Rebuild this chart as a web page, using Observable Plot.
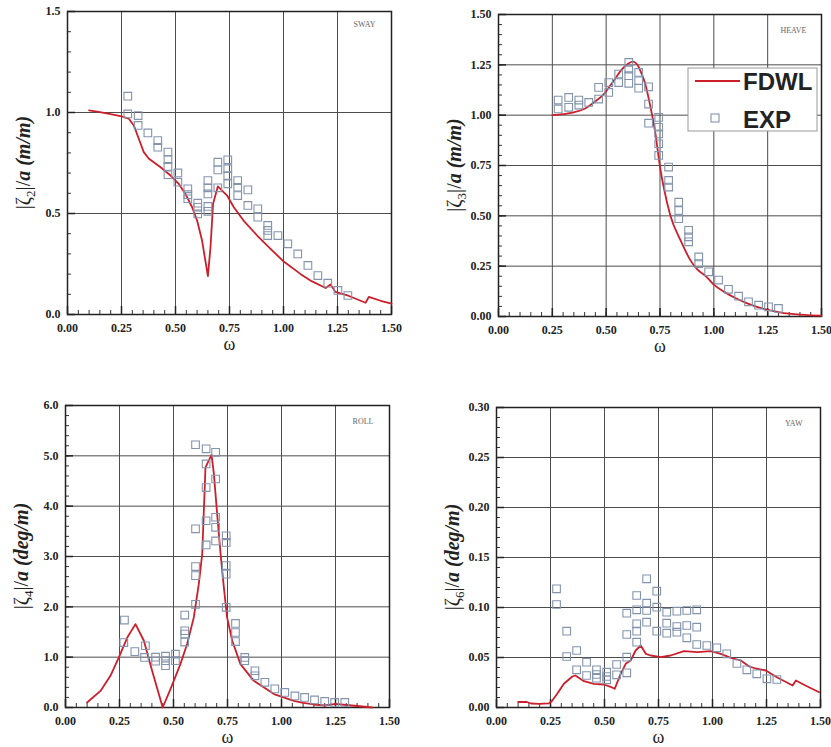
<!DOCTYPE html>
<html><head><meta charset="utf-8">
<script src="https://cdn.jsdelivr.net/npm/d3@7"></script>
<script src="https://cdn.jsdelivr.net/npm/@observablehq/plot@0.6"></script>
<style>
html,body{margin:0;padding:0;background:#fff;}
#root{position:relative;width:831px;height:747px;overflow:hidden;background:#fff;}
#root svg{position:absolute;overflow:visible;}
</style></head><body><div id="root"></div>
<script>
// ---- shared x axis ----
const xTicks = [0, 0.25, 0.5, 0.75, 1.0, 1.25, 1.5];

// ---- SWAY ----
const swayTicks = [0, 0.5, 1.0, 1.5];
const swayFDWL = [[0.10,1.010],[0.15,1.002],[0.20,0.992],[0.25,0.981],[0.284,0.969],[0.307,0.936],[0.330,0.870],[0.353,0.804],[0.377,0.771],[0.431,0.729],[0.477,0.688],[0.515,0.647],[0.546,0.597],[0.577,0.531],[0.600,0.465],[0.623,0.366],[0.650,0.190],[0.662,0.333],[0.674,0.548],[0.696,0.634],[0.739,0.589],[0.770,0.531],[0.815,0.465],[0.878,0.391],[0.940,0.325],[1.001,0.262],[1.078,0.201],[1.130,0.165],[1.195,0.131],[1.218,0.149],[1.240,0.112],[1.300,0.093],[1.380,0.058],[1.395,0.087],[1.450,0.068],[1.500,0.054]];
const swayEXP = [[0.279,1.081],[0.279,0.993],[0.327,0.985],[0.327,0.936],[0.372,0.899],[0.418,0.861],[0.418,0.828],[0.465,0.804],[0.465,0.767],[0.465,0.733],[0.465,0.692],[0.511,0.701],[0.511,0.655],[0.557,0.622],[0.557,0.593],[0.557,0.573],[0.603,0.551],[0.603,0.531],[0.603,0.498],[0.650,0.663],[0.650,0.627],[0.650,0.597],[0.650,0.535],[0.650,0.511],[0.696,0.754],[0.696,0.716],[0.696,0.627],[0.742,0.766],[0.742,0.722],[0.742,0.688],[0.742,0.647],[0.788,0.663],[0.788,0.630],[0.788,0.589],[0.835,0.617],[0.835,0.540],[0.881,0.523],[0.881,0.482],[0.927,0.441],[0.927,0.416],[0.927,0.391],[0.974,0.391],[1.020,0.350],[1.066,0.300],[1.113,0.243],[1.159,0.193],[1.205,0.155],[1.252,0.119],[1.298,0.094]];

// ---- HEAVE ----
const heaveTicks = [0, 0.25, 0.5, 0.75, 1.0, 1.25, 1.5];
const heaveFDWL = [[0.25,1.000],[0.30,1.005],[0.35,1.014],[0.40,1.032],[0.443,1.063],[0.489,1.105],[0.535,1.171],[0.574,1.229],[0.605,1.258],[0.625,1.266],[0.645,1.250],[0.659,1.220],[0.682,1.154],[0.706,1.039],[0.729,0.907],[0.749,0.750],[0.767,0.643],[0.798,0.502],[0.845,0.379],[0.891,0.280],[0.922,0.235],[0.966,0.197],[1.0,0.158],[1.05,0.121],[1.10,0.092],[1.15,0.068],[1.20,0.048],[1.25,0.033],[1.30,0.022],[1.35,0.014],[1.40,0.009],[1.45,0.006],[1.50,0.004]];
const heaveEXP = [[0.277,1.075],[0.277,1.031],[0.326,1.088],[0.326,1.039],[0.373,1.075],[0.373,1.050],[0.419,1.063],[0.465,1.138],[0.465,1.080],[0.512,1.162],[0.512,1.113],[0.558,1.204],[0.558,1.162],[0.605,1.262],[0.605,1.229],[0.605,1.196],[0.605,1.158],[0.651,1.212],[0.651,1.171],[0.651,1.134],[0.697,1.141],[0.697,1.055],[0.697,0.960],[0.744,0.989],[0.744,0.940],[0.744,0.907],[0.744,0.858],[0.744,0.800],[0.790,0.742],[0.790,0.676],[0.790,0.643],[0.837,0.568],[0.837,0.527],[0.837,0.486],[0.883,0.428],[0.883,0.396],[0.883,0.371],[0.930,0.296],[0.930,0.263],[0.976,0.222],[1.022,0.181],[1.068,0.135],[1.115,0.101],[1.161,0.073],[1.208,0.056],[1.254,0.048],[1.300,0.040]];

// ---- ROLL ----
const rollTicks = [0, 1, 2, 3, 4, 5, 6];
const rollFDWL = [[0.10,0.10],[0.162,0.33],[0.208,0.63],[0.247,0.994],[0.286,1.39],[0.324,1.657],[0.363,1.326],[0.401,0.73],[0.450,0.0],[0.486,0.366],[0.532,0.862],[0.563,1.26],[0.594,1.79],[0.617,2.45],[0.633,3.05],[0.648,4.77],[0.676,5.02],[0.687,4.64],[0.702,3.85],[0.718,3.05],[0.733,2.39],[0.748,1.79],[0.772,1.326],[0.810,0.862],[0.872,0.53],[0.965,0.266],[1.057,0.133],[1.10,0.09],[1.15,0.06],[1.20,0.04],[1.25,0.07],[1.30,0.05],[1.35,0.03],[1.42,0.0]];
const rollEXP = [[0.273,1.737],[0.270,1.29],[0.321,1.11],[0.370,1.227],[0.366,0.994],[0.417,1.0],[0.417,0.92],[0.463,1.02],[0.463,0.93],[0.463,0.83],[0.509,1.06],[0.509,0.93],[0.552,1.837],[0.552,1.525],[0.552,1.46],[0.552,1.30],[0.602,5.22],[0.602,3.55],[0.602,2.80],[0.602,2.62],[0.602,2.05],[0.651,5.14],[0.651,4.84],[0.651,4.37],[0.651,3.71],[0.651,3.23],[0.695,5.07],[0.695,4.54],[0.695,3.78],[0.695,3.58],[0.695,3.31],[0.744,3.41],[0.744,3.28],[0.744,2.82],[0.744,2.65],[0.744,1.99],[0.787,1.67],[0.787,1.49],[0.787,1.31],[0.830,0.994],[0.830,0.93],[0.877,0.73],[0.877,0.63],[0.923,0.50],[0.969,0.37],[1.015,0.30],[1.062,0.23],[1.107,0.20],[1.153,0.15],[1.200,0.12],[1.246,0.10],[1.293,0.10]];

// ---- YAW ----
const yawTicks = [0, 0.05, 0.10, 0.15, 0.20, 0.25, 0.30];
const yawFDWL = [[0.10,0.0055],[0.14,0.0055],[0.16,0.004],[0.196,0.0037],[0.243,0.0042],[0.255,0.0060],[0.281,0.0137],[0.312,0.0237],[0.351,0.031],[0.365,0.032],[0.405,0.0263],[0.451,0.0237],[0.497,0.023],[0.528,0.0207],[0.547,0.0187],[0.575,0.0337],[0.598,0.0437],[0.621,0.047],[0.644,0.057],[0.668,0.062],[0.691,0.0537],[0.714,0.052],[0.760,0.0503],[0.806,0.052],[0.868,0.0563],[0.930,0.0553],[0.992,0.0563],[1.038,0.0537],[1.085,0.0497],[1.131,0.047],[1.170,0.041],[1.200,0.039],[1.247,0.037],[1.300,0.030],[1.371,0.022],[1.386,0.027],[1.430,0.022],[1.494,0.0153]];
const yawEXP = [[0.278,0.1187],[0.278,0.103],[0.325,0.0763],[0.325,0.051],[0.371,0.057],[0.371,0.0377],[0.417,0.0453],[0.417,0.032],[0.463,0.0377],[0.463,0.033],[0.463,0.0293],[0.510,0.0353],[0.510,0.031],[0.510,0.0277],[0.556,0.043],[0.556,0.0327],[0.603,0.0943],[0.603,0.073],[0.603,0.0503],[0.603,0.0347],[0.649,0.112],[0.649,0.0977],[0.649,0.0837],[0.649,0.0763],[0.649,0.0653],[0.695,0.1287],[0.695,0.1043],[0.695,0.097],[0.695,0.0853],[0.742,0.1163],[0.742,0.1003],[0.742,0.0763],[0.788,0.0953],[0.788,0.0843],[0.788,0.0743],[0.835,0.0963],[0.835,0.081],[0.835,0.0753],[0.881,0.097],[0.881,0.082],[0.881,0.0697],[0.927,0.0977],[0.927,0.0803],[0.927,0.063],[0.974,0.062],[1.020,0.0597],[1.066,0.0537],[1.113,0.044],[1.159,0.0377],[1.205,0.0337],[1.252,0.0287],[1.298,0.028]];

const SERIF = "'Liberation Serif','Times New Roman',serif";
const SANS = "'Liberation Sans',Arial,sans-serif";
const RED = "#cc1f2b", SQ = "#8494ad", GRID = "#4d4d4d";
const root = document.getElementById("root");

function panel(c) {
  const fw = c.width - c.ml - c.mr, fh = c.height - c.mt - c.mb;
  const xMinor = d3.range(0, 1.5001, 0.05);
  const yStep = (c.yTicks[1] - c.yTicks[0]) / c.yMinorN;
  const yMinor = d3.range(c.yTicks[0], c.yTicks[c.yTicks.length - 1] + yStep / 2, yStep);
  const svg = Plot.plot({
    width: c.width, height: c.height,
    marginLeft: c.ml, marginRight: c.mr, marginTop: c.mt, marginBottom: c.mb,
    x: {domain: [0, 1.5]},
    y: {domain: [c.yTicks[0], c.yTicks[c.yTicks.length - 1]]},
    style: {fontFamily: SERIF, fontSize: "12px", fontWeight: "bold", color: "#222", background: "transparent", overflow: "visible"},
    marks: [
      Plot.gridX(xTicks, {stroke: GRID, strokeOpacity: 1, strokeWidth: 1}),
      Plot.gridY(c.yTicks, {stroke: GRID, strokeOpacity: 1, strokeWidth: 1}),
      Plot.tickX(xMinor, {x: d => d, insetTop: fh - 4, stroke: "#333", strokeWidth: 1}),
      Plot.tickX(xTicks, {x: d => d, insetTop: fh - 8, stroke: "#222", strokeWidth: 1.5}),
      Plot.tickY(yMinor, {y: d => d, insetRight: fw - 4, stroke: "#333", strokeWidth: 1}),
      Plot.tickY(c.yTicks, {y: d => d, insetRight: fw - 8, stroke: "#222", strokeWidth: 1.5}),
      Plot.axisX(xTicks, {tickSize: 0, tickPadding: 9, tickFormat: d => d.toFixed(2), label: null, fontFamily: SERIF, fontWeight: "bold", fontSize: 12}),
      Plot.axisY(c.yTicks, {tickSize: 0, tickPadding: 7, tickFormat: d => d.toFixed(c.digits), label: null, fontFamily: SERIF, fontWeight: "bold", fontSize: 12}),
      Plot.frame({stroke: "#222", strokeWidth: 1.5}),
      Plot.line(c.line, {x: d => d[0], y: d => d[1], stroke: RED, strokeWidth: 1.8, curve: c.curve || "linear"}),
      Plot.dot(c.exp, {x: d => d[0], y: d => d[1], symbol: "square", r: 4.3, stroke: SQ, strokeWidth: 1.1, fill: "none"}),
      Plot.text([c.name], {text: d => d, frameAnchor: "top-right", dx: c.ndx, dy: c.ndy, lineAnchor: "top", fontSize: 8, fontWeight: "normal", fontFamily: SERIF, fill: "#666"}),
      Plot.text(["ω"], {text: d => d, frameAnchor: "bottom", dy: 30, lineAnchor: "middle", fontSize: 18, fontWeight: "normal", fontFamily: SERIF, fill: "#222"})
    ]
  });
  svg.style.left = c.left + "px";
  svg.style.top = c.top + "px";
  // y-axis title with subscript and mixed styles
  const t = d3.select(svg).append("text")
    .attr("transform", `translate(${c.ml - 44},${c.mt + fh / 2}) rotate(-90)`)
    .attr("text-anchor", "middle").attr("dy", "0.35em")
    .style("font-family", SERIF).style("font-size", "20px").style("font-weight", "normal").attr("fill", "#222");
  t.append("tspan").text("|ζ");
  t.append("tspan").text(c.sub).attr("dy", 5).style("font-size", "13px");
  t.append("tspan").text("|/").attr("dy", -5);
  t.append("tspan").text("a (" + c.unit + ")").style("font-weight", "bold").style("font-style", "italic");
  root.appendChild(svg);
  return svg;
}

panel({left: 0, top: 0, width: 415, height: 375, ml: 67, mr: 24, mt: 11, mb: 61,
  yTicks: swayTicks, yMinorN: 5, digits: 1, line: swayFDWL, exp: swayEXP,
  name: "SWAY", ndx: -16, ndy: 10, sub: "2", unit: "m/m"});

const heave = panel({left: 415, top: 0, width: 416, height: 375, ml: 83, mr: 10, mt: 14, mb: 59,
  yTicks: heaveTicks, yMinorN: 5, digits: 2, line: heaveFDWL, exp: heaveEXP, curve: "monotone-x",
  name: "HEAVE", ndx: -15, ndy: 13, sub: "3", unit: "m/m"});

panel({left: 0, top: 375, width: 415, height: 372, ml: 65, mr: 26, mt: 30, mb: 40,
  yTicks: rollTicks, yMinorN: 5, digits: 1, line: rollFDWL, exp: rollEXP,
  name: "ROLL", ndx: -16, ndy: 13, sub: "4", unit: "deg/m"});

panel({left: 415, top: 375, width: 416, height: 372, ml: 81, mr: 11, mt: 32, mb: 40,
  yTicks: yawTicks, yMinorN: 5, digits: 2, line: yawFDWL, exp: yawEXP,
  name: "YAW", ndx: -18, ndy: 13, sub: "6", unit: "deg/m"});

// legend inside HEAVE panel
const lg = d3.select(heave).append("g").attr("transform", "translate(273,68)").attr("text-anchor", "start");
lg.append("rect").attr("width", 129).attr("height", 63).attr("fill", "#fff").attr("stroke", "#999").attr("stroke-width", 1);
lg.append("line").attr("x1", 7).attr("x2", 52).attr("y1", 13).attr("y2", 13).attr("stroke", RED).attr("stroke-width", 2);
lg.append("rect").attr("x", 23).attr("y", 46).attr("width", 8).attr("height", 8).attr("fill", "none").attr("stroke", SQ).attr("stroke-width", 1.1);
lg.append("text").attr("x", 55).attr("y", 22).attr("text-anchor", "start").text("FDWL").style("font-family", SANS).style("font-weight", "bold").style("font-size", "24px").attr("fill", "#222");
lg.append("text").attr("x", 55).attr("y", 60).attr("text-anchor", "start").text("EXP").style("font-family", SANS).style("font-weight", "bold").style("font-size", "24px").attr("fill", "#222");
</script></body></html>
